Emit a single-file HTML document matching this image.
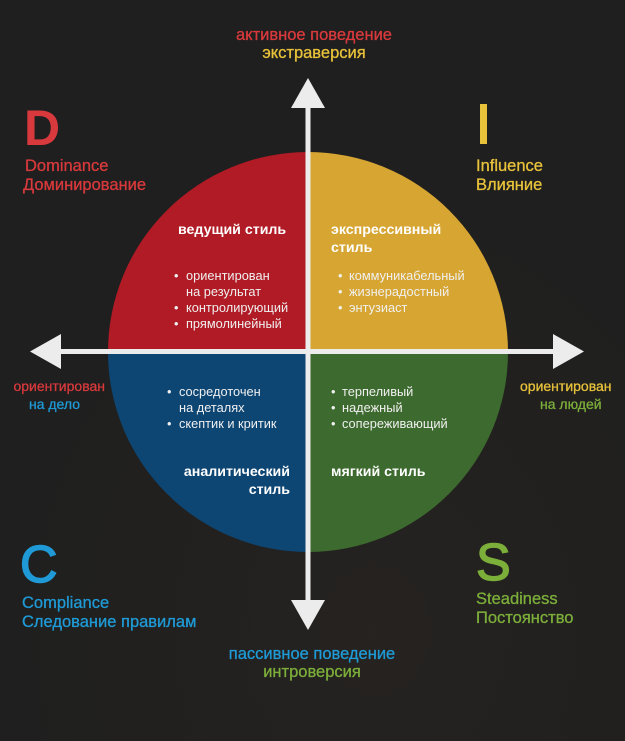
<!DOCTYPE html>
<html><head><meta charset="utf-8"><style>
html,body{margin:0;padding:0;background:#1f1f1f;}
svg{display:block}
text{font-family:"Liberation Sans","DejaVu Sans",sans-serif;}
</style></head><body>
<svg width="625" height="741" viewBox="0 0 625 741" xmlns="http://www.w3.org/2000/svg">
<defs>
<radialGradient id="g" cx="0.6" cy="0.85" r="0.6"><stop offset="0" stop-color="#2a2520"/><stop offset="1" stop-color="#1f1f1f"/></radialGradient>
</defs>
<rect width="625" height="741" fill="#1f1f1f"/>
<rect width="625" height="741" fill="url(#g)" opacity="0.6"/>
<path d="M308,352 L308,152 A200,200 0 0 0 108,352 Z" fill="#b01b25"/>
<path d="M308,352 L308,152 A200,200 0 0 1 508,352 Z" fill="#d6a532"/>
<path d="M308,352 L108,352 A200,200 0 0 0 308,552 Z" fill="#0d4573"/>
<path d="M308,352 L508,352 A200,200 0 0 1 308,552 Z" fill="#3d6a2e"/>
<g fill="#ececec">
<rect x="305.5" y="105" width="5" height="497"/>
<polygon points="308,78 291,108 325,108"/>
<polygon points="308,630 291,600 325,600"/>
<rect x="58" y="349" width="498" height="5"/>
<polygon points="30,351.5 61,334 61,369"/>
<polygon points="584,351.5 553,334 553,369"/>
</g>
<g font-size="16.5" text-anchor="middle" stroke-width="0.3">
<text x="314" y="40" fill="#d8393c" stroke="#d8393c">активное поведение</text>
<text x="314" y="58" fill="#e8c23a" stroke="#e8c23a">экстраверсия</text>
<text x="312" y="659" fill="#1f9ad6" stroke="#1f9ad6">пассивное поведение</text>
<text x="312" y="677" fill="#7cae3a" stroke="#7cae3a">интроверсия</text>
</g>
<g font-size="16.5" stroke-width="0.3">
<text x="24" y="145" font-size="50" font-weight="bold" fill="#d8393c">D</text>
<text x="25" y="171" fill="#d8393c" stroke="#d8393c">Dominance</text>
<text x="23" y="190" fill="#d8393c" stroke="#d8393c">Доминирование</text>
<rect x="480" y="104" width="7" height="40" fill="#e8c23a"/>
<text x="476" y="171" fill="#e8c23a" stroke="#e8c23a">Influence</text>
<text x="476" y="190" fill="#e8c23a" stroke="#e8c23a">Влияние</text>
<text x="20" y="582" font-size="52" fill="#1f9ad6" stroke="#1f9ad6" stroke-width="1.5">C</text>
<text x="22" y="608" fill="#1f9ad6" stroke="#1f9ad6">Compliance</text>
<text x="22" y="627" fill="#1f9ad6" stroke="#1f9ad6">Следование правилам</text>
<text x="476" y="580" font-size="52" fill="#7cae3a" stroke="#7cae3a" stroke-width="1.5">S</text>
<text x="476" y="604" fill="#7cae3a" stroke="#7cae3a">Steadiness</text>
<text x="476" y="623" fill="#7cae3a" stroke="#7cae3a">Постоянство</text>
</g>
<g font-size="14" stroke-width="0.3">
<text x="105" y="391" text-anchor="end" fill="#d8393c" stroke="#d8393c">ориентирован</text>
<text x="80" y="409" text-anchor="end" fill="#1f9ad6" stroke="#1f9ad6">на дело</text>
<text x="520" y="391" fill="#e8c23a" stroke="#e8c23a">ориентирован</text>
<text x="540" y="409" fill="#7cae3a" stroke="#7cae3a">на людей</text>
</g>
<g fill="#fff" font-size="14.2" font-weight="bold">
<text x="178" y="234">ведущий стиль</text>
<text x="331" y="234">экспрессивный</text>
<text x="331" y="252">стиль</text>
<text x="290" y="476" text-anchor="end">аналитический</text>
<text x="290" y="494" text-anchor="end">стиль</text>
<text x="331" y="476">мягкий стиль</text>
</g>
<g fill="#f0f0f0" font-size="12.8">
<text x="174" y="280">•</text><text x="186" y="280">ориентирован</text>
<text x="186" y="296">на результат</text>
<text x="174" y="312">•</text><text x="186" y="312">контролирующий</text>
<text x="174" y="328">•</text><text x="186" y="328">прямолинейный</text>
<text x="338" y="280">•</text><text x="349" y="280">коммуникабельный</text>
<text x="338" y="296">•</text><text x="349" y="296">жизнерадостный</text>
<text x="338" y="312">•</text><text x="349" y="312">энтузиаст</text>
<text x="167" y="396">•</text><text x="179" y="396">сосредоточен</text>
<text x="179" y="412">на деталях</text>
<text x="167" y="428">•</text><text x="179" y="428">скептик и критик</text>
<text x="331" y="396">•</text><text x="342" y="396">терпеливый</text>
<text x="331" y="412">•</text><text x="342" y="412">надежный</text>
<text x="331" y="428">•</text><text x="342" y="428">сопереживающий</text>
</g>
</svg>
</body></html>
